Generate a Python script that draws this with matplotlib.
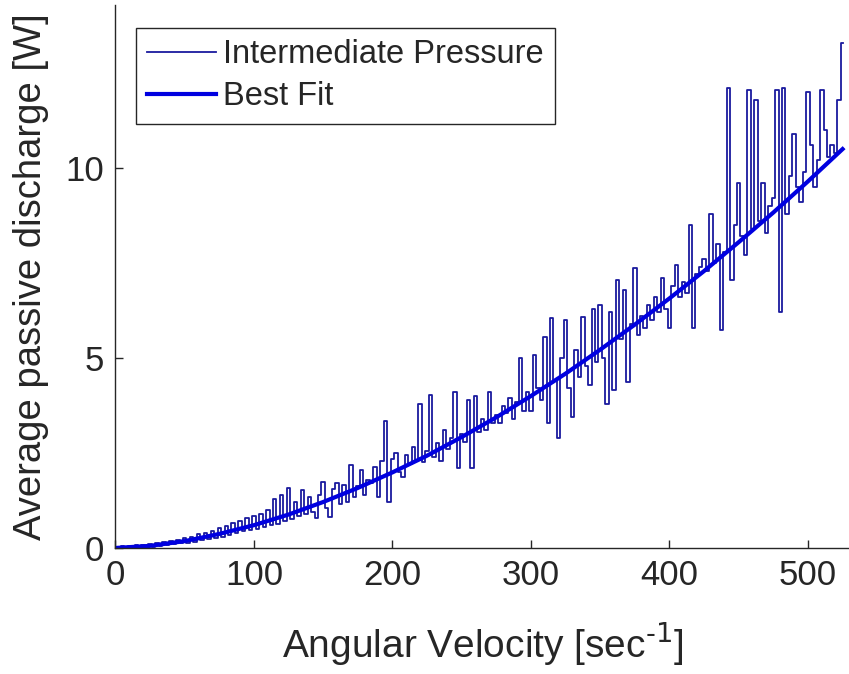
import numpy as np
import matplotlib
matplotlib.use("Agg")
import matplotlib.pyplot as plt

discharge = [
    0.02, 0.00, 0.04, 0.01, 0.05, 0.02, 0.07, 0.03, 0.08, 0.04,
    0.10, 0.03, 0.12, 0.05, 0.16, 0.08, 0.19, 0.10, 0.22, 0.12,
    0.26, 0.13, 0.30, 0.17, 0.36, 0.20, 0.40, 0.24, 0.45, 0.27,
    0.52, 0.30, 0.58, 0.35, 0.66, 0.40, 0.72, 0.44, 0.80, 0.48,
    0.85, 0.50, 0.90, 0.55, 1.00, 0.60, 1.29, 0.62, 1.40, 0.70,
    1.57, 0.75, 1.20, 0.85, 1.53, 0.90, 1.35, 0.95, 0.80, 1.40,
    1.74, 1.05, 0.82, 1.55, 1.70, 1.15, 1.65, 1.20, 2.18, 1.35,
    1.62, 2.05, 1.40, 1.80, 1.70, 2.13, 1.35, 2.30, 3.35, 1.20,
    2.35, 2.50, 2.00, 1.87, 2.45, 2.20, 2.65, 2.30, 3.80, 2.25,
    2.55, 4.03, 2.40, 2.75, 2.30, 3.10, 2.60, 2.90, 4.10, 2.10,
    3.00, 2.80, 3.90, 2.10, 4.00, 3.05, 3.40, 3.10, 4.10, 3.30,
    3.50, 3.30, 3.75, 3.55, 3.95, 3.40, 3.85, 5.00, 3.60, 4.10,
    3.60, 5.08, 4.20, 3.90, 5.55, 3.30, 6.05, 4.40, 2.90, 5.00,
    6.00, 4.20, 3.45, 5.20, 4.50, 6.08, 4.80, 4.30, 6.30, 4.90,
    6.40, 5.00, 3.80, 6.20, 4.15, 7.05, 5.50, 6.80, 4.37, 5.90,
    7.37, 5.60, 6.10, 5.80, 6.40, 6.00, 6.60, 6.20, 7.10, 6.30,
    5.80, 6.90, 7.45, 6.60, 7.00, 6.70, 8.50, 5.80, 7.20, 7.40,
    7.60, 7.30, 8.80, 7.50, 8.00, 5.74, 7.80, 12.10, 7.05, 8.50,
    9.60, 8.20, 7.70, 12.05, 8.40, 11.80, 8.60, 9.60, 8.30, 9.00,
    9.20, 12.05, 6.20, 12.10, 8.80, 9.80, 10.90, 9.50, 9.10, 9.90,
    12.00, 10.60, 9.50, 10.20, 12.05, 11.00, 10.30, 10.60, 10.40, 11.80,
    13.30,
]
velocity = np.linspace(0, 525, len(discharge))

# Best fit curve, sampled every 25 sec^-1
fit_velocity = [0, 25, 50, 75, 100, 125, 150, 175, 200, 225, 250,
                275, 300, 325, 350, 375, 400, 425, 450, 475, 500, 525]
fit_discharge = [0.00, 0.055, 0.18, 0.37, 0.60, 0.88, 1.21, 1.58, 1.99, 2.43, 2.92,
                 3.44, 4.00, 4.59, 5.22, 5.88, 6.57, 7.29, 8.05, 8.83, 9.65, 10.50]

x_ticks = [0, 100, 200, 300, 400, 500]
y_ticks = [0, 5, 10]

plt.rcParams['font.family'] = ['Liberation Sans', 'DejaVu Sans']
text_col = '#262626'

fig = plt.figure(figsize=(8.49, 6.74), dpi=100)
ax = fig.add_axes([0.136, 0.187, 0.8646, 0.806])

ax.plot(velocity, discharge, color='#1a1a9e', linewidth=1.3,
        drawstyle='steps-mid', label='Intermediate Pressure')
ax.plot(fit_velocity, fit_discharge, color='#0000e0', linewidth=3.0,
        label='Best Fit')

ax.set_xlim(0, 530)
ax.set_ylim(0, 14.3)
ax.set_xticks(x_ticks)
ax.set_yticks(y_ticks)

for side in ['top', 'right']:
    ax.spines[side].set_visible(False)
for side in ['left', 'bottom']:
    ax.spines[side].set_color(text_col)
    ax.spines[side].set_linewidth(1.0)

ax.tick_params(direction='in', length=6, width=1.0, colors=text_col,
               labelsize=25, pad=8)

ax.set_xlabel('Angular Velocity [sec$^{\u2010 1}$]', fontsize=28, color=text_col, labelpad=20)
ax.set_ylabel('Average passive discharge [W]', fontsize=27.5, color=text_col, labelpad=12)

leg = ax.legend(loc='upper left', bbox_to_anchor=(0.028, 0.958), borderaxespad=0,
                fontsize=23.5, fancybox=False, edgecolor=text_col, framealpha=1,
                handlelength=2.1, handletextpad=0.2, labelspacing=0.35,
                borderpad=0.35)
leg.get_frame().set_linewidth(1.0)
for t in leg.get_texts():
    t.set_color(text_col)

fig.savefig('out.png', dpi=100)
